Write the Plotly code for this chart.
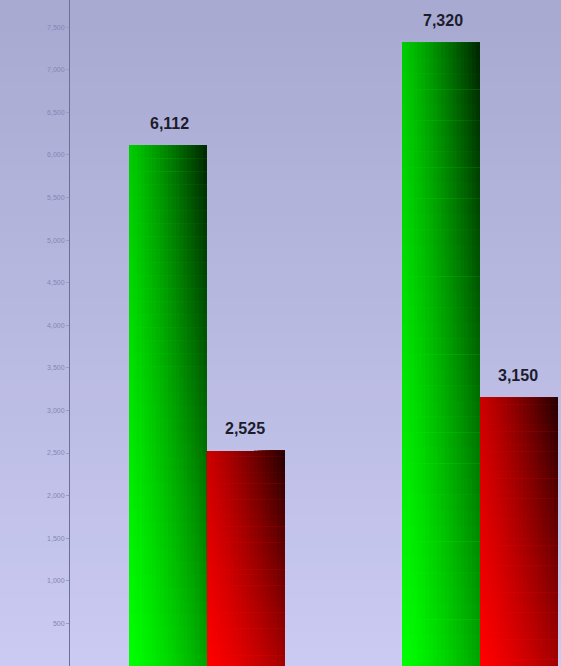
import plotly.graph_objects as go

# ---- data ----
categories = ["Group A", "Group B"]
green_values = [6112, 7320]
red_values = [2525, 3150]
green_labels = ["6,112", "7,320"]
red_labels = ["2,525", "3,150"]
tick_values = [500, 1000, 1500, 2000, 2500, 3000, 3500, 4000,
               4500, 5000, 5500, 6000, 6500, 7000, 7500]
tick_labels = ["500", "1,000", "1,500", "2,000", "2,500", "3,000", "3,500", "4,000",
               "4,500", "5,000", "5,500", "6,000", "6,500", "7,000", "7,500"]

BAR_W = 0.2857
NU, NV = 20, 40


def shade(u, v):
    # u: 0 left -> 1 right, v: 0 bottom -> 1 top
    return max(0.0, 1 - 0.36 * (u ** 1.3) - 0.2 * v - 0.3 * u * v)


fig = go.Figure()


def add_gradient_bar(values, offset, base_rgb):
    # each layer starts at its own (u, v) and extends to the bar's far corner,
    # so later layers cover earlier ones without seams
    for j in range(NV):
        v = (j + 0.5) / NV
        for i in range(NU):
            u = (i + 0.5) / NU
            k = shade(u, v)
            col = "rgb(%d,%d,%d)" % tuple(int(round(c * k)) for c in base_rgb)
            fig.add_trace(go.Bar(
                x=categories,
                y=[val * (1 - j / NV) for val in values],
                base=[val * j / NV for val in values],
                offset=offset + i * BAR_W / NU,
                width=BAR_W * (1 - i / NU),
                marker=dict(color=col, line=dict(width=0)),
                hoverinfo="skip", showlegend=False,
            ))


add_gradient_bar(green_values, -BAR_W, (0, 255, 0))
add_gradient_bar(red_values, 0.0, (255, 0, 0))

annotations = []
for cat, val, lab in zip(categories, green_values, green_labels):
    annotations.append(dict(x=cat, y=val, text="<b>%s</b>" % lab, xshift=-37, yshift=22,
                            showarrow=False, xref="x", yref="y",
                            font=dict(family="Liberation Sans, Arial", size=16, color="#1c1c2c")))
for cat, val, lab in zip(categories, red_values, red_labels):
    annotations.append(dict(x=cat, y=val, text="<b>%s</b>" % lab, xshift=38, yshift=22,
                            showarrow=False, xref="x", yref="y",
                            font=dict(family="Liberation Sans, Arial", size=16, color="#1c1c2c")))

# background vertical gradient bands (decorative)
shapes = []
NB = 40
top = (168, 170, 210)
bot = (202, 202, 242)
for b in range(NB):
    t = b / (NB - 1)
    c = tuple(int(top[k] + (bot[k] - top[k]) * t) for k in range(3))
    shapes.append(dict(type="rect", xref="paper", yref="paper",
                       x0=-0.2, x1=1.05,
                       y0=1 - (b + 1) / NB - 0.002, y1=1 - b / NB + 0.002,
                       fillcolor="rgb(%d,%d,%d)" % c, line=dict(width=0), layer="below"))

fig.update_layout(
    width=561, height=666,
    margin=dict(l=70, r=0, t=0, b=0),
    barmode="overlay",
    paper_bgcolor="#b4b6de",
    plot_bgcolor="rgba(0,0,0,0)",
    showlegend=False,
    shapes=shapes,
    annotations=annotations,
    xaxis=dict(type="category", range=[-0.5018, 1.2967], showticklabels=False,
               showgrid=False, zeroline=False, showline=False, fixedrange=True),
    yaxis=dict(range=[0, 7818], tickvals=tick_values, ticktext=tick_labels,
               tickfont=dict(family="Liberation Sans, Arial", size=7, color="#8486b4"),
               ticks="outside", ticklen=3, tickcolor="#9a9cc4",
               showgrid=False, zeroline=False, showline=True, linecolor="#6e7092",
               linewidth=1, fixedrange=True),
)

fig.write_html(
    "out.html",
    config={"displayModeBar": False},
    post_script="document.body.style.margin='0';document.body.style.overflow='hidden';",
)
